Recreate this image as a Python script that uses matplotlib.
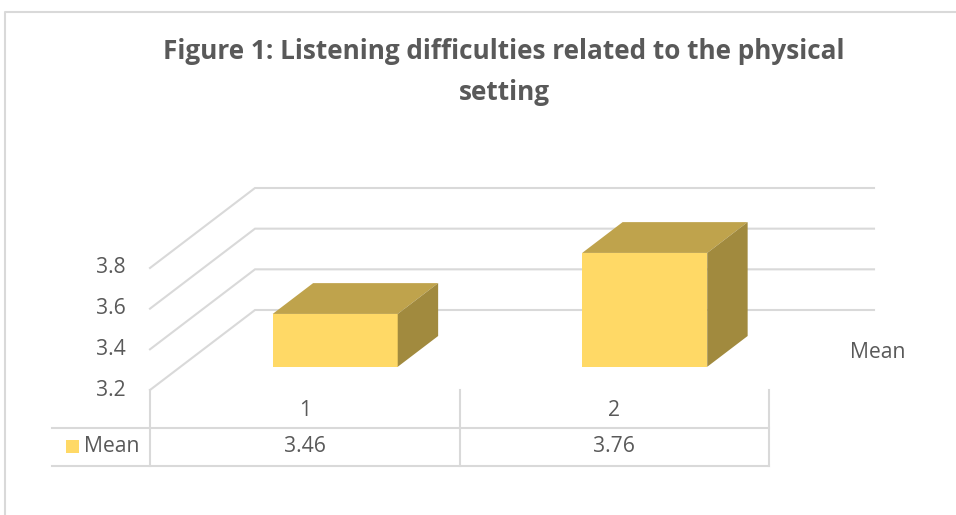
import matplotlib
matplotlib.use("Agg")
import matplotlib.pyplot as plt
from matplotlib.patches import Polygon, Rectangle

# ---- data ----
categories = ["1", "2"]
series_name = "Mean"
values = [3.46, 3.76]
y_ticks = [3.2, 3.4, 3.6, 3.8]
title = "Figure 1: Listening difficulties related to the physical\nsetting"

# ---- layout (pixels) ----
W, H = 956, 515
FRONT_X0 = 150        # left edge of front plane
CAT_W = 309.5         # width of one category on the front plane
FLOOR_PY = 390        # pixel row of the 3.2 front floor
PPU = 40.67 / 0.2     # pixels per value unit
DEPTH_PX = (105, 80)  # back wall offset (right, up)
BAR_W = 0.404
BAR_D0, BAR_D1 = 0.29, 0.675   # bar depth span as fraction of wall depth
Y0 = y_ticks[0]
FS = 15.2

FRONT = "#FFD966"
TOP = "#BFA34C"
SIDE = "#A18A3E"
GRID = "#D9D9D9"
TXT = "#595959"

plt.rcParams["font.family"] = ["Open Sans", "DejaVu Sans"]

fig = plt.figure(figsize=(W / 100, H / 100), dpi=100)
ax = fig.add_axes([0, 0, 1, 1])
ax.set_xlim(-FRONT_X0 / CAT_W, (W - FRONT_X0) / CAT_W)
ax.set_ylim(Y0 - (H - FLOOR_PY) / PPU, Y0 + FLOOR_PY / PPU)
ax.axis("off")

DX = DEPTH_PX[0] / CAT_W
DY = DEPTH_PX[1] / PPU
n = len(categories)


def row_y(py):
    return Y0 - (py - FLOOR_PY) / PPU


# gridlines: diagonal side wall + back wall
for v in y_ticks:
    ax.plot([0, DX, n + DX], [v, v + DY, v + DY], color=GRID, lw=1.5, zorder=1,
            solid_joinstyle="miter")
    ax.text(-24 / CAT_W, v, f"{v:.1f}", ha="right", va="center", fontsize=FS, color=TXT)

# 3D bars
for i, val in enumerate(values):
    x0 = i + 0.5 - BAR_W / 2 + BAR_D0 * DX
    x1 = x0 + BAR_W
    ox = (BAR_D1 - BAR_D0) * DX
    oy = (BAR_D1 - BAR_D0) * DY
    yb = Y0 + BAR_D0 * DY
    yt = val + BAR_D0 * DY
    ax.add_patch(Polygon([(x0, yb), (x1, yb), (x1, yt), (x0, yt)], closed=True,
                         facecolor=FRONT, edgecolor="none", zorder=3))
    ax.add_patch(Polygon([(x0, yt), (x1, yt), (x1 + ox, yt + oy), (x0 + ox, yt + oy)],
                         closed=True, facecolor=TOP, edgecolor="none", zorder=3))
    ax.add_patch(Polygon([(x1, yb), (x1 + ox, yb + oy), (x1 + ox, yt + oy), (x1, yt)],
                         closed=True, facecolor=SIDE, edgecolor="none", zorder=3))

# data table
y_mid = row_y(428)
y_bot = row_y(466)
x_leg = (52 - FRONT_X0) / CAT_W
for k in range(n + 1):
    ax.plot([k, k], [Y0, y_bot], color=GRID, lw=1.5, zorder=1)
ax.plot([x_leg, n], [y_mid, y_mid], color=GRID, lw=1.5, zorder=1)
ax.plot([x_leg, n], [y_bot, y_bot], color=GRID, lw=1.5, zorder=1)
for i, (cat, val) in enumerate(zip(categories, values)):
    ax.text(i + 0.5, row_y(411), cat, ha="center", va="center", fontsize=FS, color=TXT)
    ax.text(i + 0.5, row_y(446), f"{val:.2f}", ha="center", va="center", fontsize=FS, color=TXT)
ax.add_patch(Rectangle(((66 - FRONT_X0) / CAT_W, row_y(453)), 13 / CAT_W, 13 / PPU,
                       facecolor=FRONT, edgecolor="none"))
ax.text((84 - FRONT_X0) / CAT_W, row_y(446), series_name, ha="left", va="center",
        fontsize=FS, color=TXT)

# series label at right
ax.text((850 - FRONT_X0) / CAT_W, row_y(352), series_name, ha="left", va="center",
        fontsize=FS, color=TXT)

# chart border
ax.plot([(5 - FRONT_X0) / CAT_W, (5 - FRONT_X0) / CAT_W, (W - FRONT_X0) / CAT_W],
        [row_y(H), row_y(12), row_y(12)], color=GRID, lw=1.5)

fig.text(504 / W, 1 - 72 / H, title, ha="center", va="center", fontsize=18.8,
         fontweight="bold", color=TXT, linespacing=1.62)

fig.savefig("out.png", dpi=100)
